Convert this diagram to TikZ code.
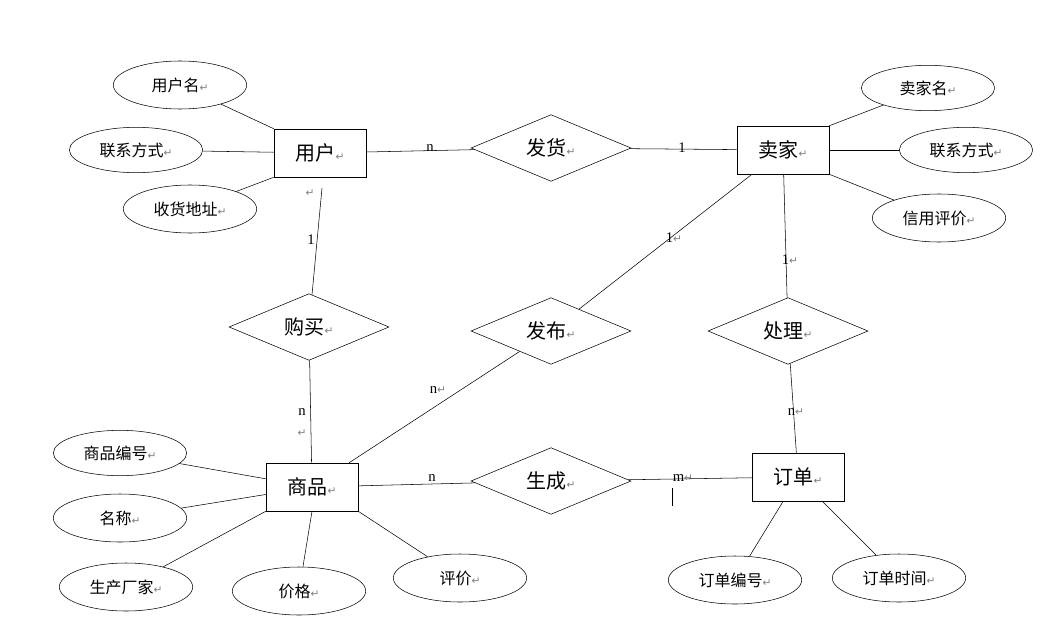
\documentclass[tikz,border=0pt]{standalone}
\usepackage{fontspec}
\setmainfont{Liberation Serif}
\newfontfamily\cjk{Noto Sans CJK SC}
\newfontfamily\dv{DejaVu Sans}
\usetikzlibrary{shapes.geometric}
\newcommand{\rmk}{{\color{gray}\dv\fontsize{8}{8}\selectfont ↵}}
\begin{document}
\begin{tikzpicture}[x=0.75pt,y=-0.75pt,
  ent/.style={draw,minimum width=69pt,minimum height=36pt,font=\cjk\fontsize{15}{15}\selectfont,inner sep=0pt},
  rel/.style={draw,diamond,aspect=2.42,minimum width=120pt,minimum height=50pt,font=\cjk\fontsize{15}{15}\selectfont,inner sep=0pt},
  att/.style={draw,ellipse,minimum width=100pt,minimum height=36pt,font=\cjk\fontsize{12}{12}\selectfont,inner sep=0pt},
  lab/.style={font=\fontsize{11}{11}\selectfont}]
\useasboundingbox (0,0) rectangle (1045,642);
\node[ent] (yh) at (320,153) {用户\rmk};
\node[ent] (mj) at (783,150) {卖家\rmk};
\node[ent] (sp) at (312,487) {商品\rmk};
\node[ent] (dd) at (798,477) {订单\rmk};
\node[rel] (fh) at (551,148) {发货\rmk};
\node[rel] (gm) at (309,327) {购买\rmk};
\node[rel] (fb) at (551,331) {发布\rmk};
\node[rel] (cl) at (788,331) {处理\rmk};
\node[rel] (sc) at (551,481) {生成\rmk};
\node[att] (a1) at (180,85) {用户名\rmk};
\node[att,minimum height=34pt] (a2) at (136,150) {联系方式\rmk};
\node[att] (a3) at (190,209) {收货地址\rmk};
\node[att,minimum height=34pt] (b1) at (928,88) {卖家名\rmk};
\node[att,minimum height=34pt] (b2) at (966,150) {联系方式\rmk};
\node[att] (b3) at (939,218) {信用评价\rmk};
\node[att,minimum height=34pt] (c1) at (120,453) {商品编号\rmk};
\node[att] (c2) at (120,518) {名称\rmk};
\node[att] (c3) at (126,587) {生产厂家\rmk};
\node[att] (c4) at (299,591) {价格\rmk};
\node[att] (c5) at (460,578) {评价\rmk};
\node[att] (d1) at (735,580) {订单编号\rmk};
\node[att] (d2) at (899,578) {订单时间\rmk};
\draw (a1) -- (yh.north west); \draw (a2) -- (yh); \draw (a3) -- (yh.south west);
\draw (b1) -- (mj.north east); \draw (b2) -- (mj); \draw (b3) -- (mj.south east);
\draw (c1) -- (sp); \draw (c2) -- (sp); \draw (c3) -- (sp.south west);
\draw (c4) -- (sp.south); \draw (c5) -- (sp.south east);
\draw (d1) -- (dd); \draw (d2) -- (dd);
\draw (yh) -- (fh) -- (mj);
\draw (yh.south) ++(0,10) coordinate (y1); \draw (gm) -- (322,188);
\draw (gm) -- (sp);
\draw (sp) -- (fb) -- (mj);
\draw (mj) -- (cl) -- (dd);
\draw (sp) -- (sc) -- (dd);
\node[lab] at (430,148) {n};
\node[lab] at (682,148) {1};
\node at (310,193) {\rmk};
\node[lab] at (311,240) {1};
\node[lab] at (302,412) {n};
\node at (302,433) {\rmk};
\node[lab] at (438,390) {n\rmk};
\node[lab] at (674,238) {1\rmk};
\node[lab] at (790,260) {1\rmk};
\node[lab] at (796,412) {n\rmk};
\node[lab] at (432,478) {n};
\node[lab] at (683,478) {m\rmk};
\draw (672,488) -- (672,506);
\end{tikzpicture}
\end{document}
